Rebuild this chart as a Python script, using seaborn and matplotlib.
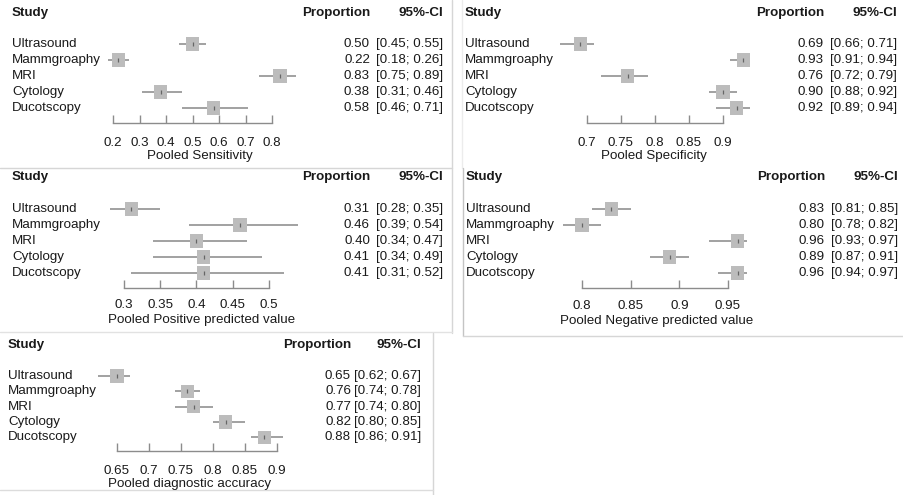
import numpy as np
import pandas as pd
import matplotlib
matplotlib.use("Agg")
import matplotlib.pyplot as plt
import matplotlib.transforms as mtransforms
from matplotlib.lines import Line2D
import seaborn as sns

sns.set_theme(style="white")
plt.rcParams['font.family'] = ['Liberation Sans', 'DejaVu Sans']

# ---------------- data ----------------
studies = ["Ultrasound", "Mammgroaphy", "MRI", "Cytology", "Ducotscopy"]

sens_est = [0.50, 0.22, 0.83, 0.38, 0.58]
sens_lo = [0.45, 0.18, 0.75, 0.31, 0.46]
sens_hi = [0.55, 0.26, 0.89, 0.46, 0.71]
sens_ticks = [0.2, 0.3, 0.4, 0.5, 0.6, 0.7, 0.8]

spec_est = [0.69, 0.93, 0.76, 0.90, 0.92]
spec_lo = [0.66, 0.91, 0.72, 0.88, 0.89]
spec_hi = [0.71, 0.94, 0.79, 0.92, 0.94]
spec_ticks = [0.7, 0.75, 0.8, 0.85, 0.9]

ppv_est = [0.31, 0.46, 0.40, 0.41, 0.41]
ppv_lo = [0.28, 0.39, 0.34, 0.34, 0.31]
ppv_hi = [0.35, 0.54, 0.47, 0.49, 0.52]
ppv_ticks = [0.3, 0.35, 0.4, 0.45, 0.5]

npv_est = [0.83, 0.80, 0.96, 0.89, 0.96]
npv_lo = [0.81, 0.78, 0.93, 0.87, 0.94]
npv_hi = [0.85, 0.82, 0.97, 0.91, 0.97]
npv_ticks = [0.8, 0.85, 0.9, 0.95]

acc_est = [0.65, 0.76, 0.77, 0.82, 0.88]
acc_lo = [0.62, 0.74, 0.74, 0.80, 0.86]
acc_hi = [0.67, 0.78, 0.80, 0.85, 0.91]
acc_ticks = [0.65, 0.7, 0.75, 0.8, 0.85, 0.9]

xlabels = ["Pooled Sensitivity", "Pooled Specificity", "Pooled Positive predicted value",
           "Pooled Negative predicted value", "Pooled diagnostic accuracy"]

# ---------------- layout (pixels) ----------------
W, H = 904, 495
fig = plt.figure(figsize=(W / 100, H / 100), dpi=100)
fig.patch.set_facecolor("white")

def fx(x):
    return x / W

def fy(y):
    return 1 - y / H

panels = [
    dict(est=sens_est, lo=sens_lo, hi=sens_hi, ticks=sens_ticks, xlabel=xlabels[0],
         ax0=113, ax1=272, row0=44, step=16, base=123, top=4, lab_x=12, head_y=13,
         prop_x=370, ci_x=443, tick_y=142, xl_y=156, xl_x=200),
    dict(est=spec_est, lo=spec_lo, hi=spec_hi, ticks=spec_ticks, xlabel=xlabels[1],
         ax0=587, ax1=723, row0=44, step=16, base=123, top=4, lab_x=465, head_y=13,
         prop_x=824, ci_x=897, tick_y=142, xl_y=156, xl_x=654),
    dict(est=ppv_est, lo=ppv_lo, hi=ppv_hi, ticks=ppv_ticks, xlabel=xlabels[2],
         ax0=124, ax1=269, row0=209, step=16, base=288, top=170, lab_x=12, head_y=177,
         prop_x=370, ci_x=443, tick_y=304, xl_y=320, xl_x=202),
    dict(est=npv_est, lo=npv_lo, hi=npv_hi, ticks=npv_ticks, xlabel=xlabels[3],
         ax0=582, ax1=728, row0=209, step=16, base=288, top=170, lab_x=466, head_y=177,
         prop_x=825, ci_x=898, tick_y=305, xl_y=321, xl_x=657),
    dict(est=acc_est, lo=acc_lo, hi=acc_hi, ticks=acc_ticks, xlabel=xlabels[4],
         ax0=117, ax1=277, row0=376, step=15.3, base=451, top=336, lab_x=8, head_y=345,
         prop_x=351, ci_x=421, tick_y=470, xl_y=484, xl_x=190),
]

FS = 9.6
TXT = "#1a1a1a"

for p in panels:
    ticks = p["ticks"]
    ax = fig.add_axes([fx(p["ax0"]), fy(p["base"]), fx(p["ax1"] - p["ax0"]),
                       (p["base"] - p["top"]) / H])
    ax.set_facecolor("none")
    ax.set_xlim(ticks[0], ticks[-1])
    ybot = (p["base"] - p["row0"]) / p["step"]
    ytop = (p["top"] - p["row0"]) / p["step"]
    ax.set_ylim(ybot, ytop)

    df = pd.DataFrame({"study": studies, "est": p["est"], "lo": p["lo"], "hi": p["hi"],
                       "idx": np.arange(len(studies))})

    ax.hlines(df["idx"], df["lo"], df["hi"], color="#878787", lw=1.1, clip_on=False, zorder=2)
    sns.scatterplot(data=df, x="est", y="idx", marker="s", s=92, color="#bcbcbc",
                    edgecolor="none", linewidth=0, ax=ax, zorder=3, clip_on=False, legend=False)
    ax.scatter(df["est"], df["idx"], marker="|", s=10, color="#666666", linewidths=0.9,
               zorder=4, clip_on=False)

    for s in ["top", "right", "left"]:
        ax.spines[s].set_visible(False)
    ax.spines["bottom"].set_color("#8c8c8c")
    ax.spines["bottom"].set_linewidth(1.0)
    ax.set_yticks([])
    ax.set_xticks(ticks)
    ax.set_xticklabels([f"{t:g}" for t in ticks], fontsize=FS, color=TXT)
    ax.tick_params(axis="x", direction="in", length=6, width=1.0, color="#8c8c8c",
                   pad=(p["tick_y"] - p["base"] - 5) * 0.72, bottom=True)
    ax.set_xlabel("")
    ax.set_ylabel("")

    tr = mtransforms.blended_transform_factory(fig.transFigure, ax.transData)
    for i, row in df.iterrows():
        ax.text(fx(p["lab_x"]), row["idx"], row["study"], transform=tr, fontsize=FS,
                color=TXT, ha="left", va="center")
        ax.text(fx(p["prop_x"]), row["idx"], f"{row['est']:.2f}", transform=tr,
                fontsize=FS, color=TXT, ha="right", va="center")
        ax.text(fx(p["ci_x"]), row["idx"], f"[{row['lo']:.2f}; {row['hi']:.2f}]",
                transform=tr, fontsize=FS, color=TXT, ha="right", va="center")

    fig.text(fx(p["lab_x"]), fy(p["head_y"]), "Study", fontsize=FS, fontweight="bold",
             color=TXT, ha="left", va="center")
    fig.text(fx(p["prop_x"]), fy(p["head_y"]), "Proportion", fontsize=FS, fontweight="bold",
             color=TXT, ha="right", va="center")
    fig.text(fx(p["ci_x"]), fy(p["head_y"]), "95%-CI", fontsize=FS, fontweight="bold",
             color=TXT, ha="right", va="center")
    fig.text(fx(p["xl_x"]), fy(p["xl_y"]), p["xlabel"], fontsize=FS, color=TXT,
             ha="center", va="center")

# ---------------- faint panel borders ----------------
def seg(x0, y0, x1, y1, c="#d6d6d6"):
    fig.add_artist(Line2D([fx(x0), fx(x1)], [fy(y0), fy(y1)], color=c, lw=1.0,
                          transform=fig.transFigure))

seg(452, 0, 452, 333)
seg(0, 168, 452, 168)
seg(462, 0, 462, 168, "#ececec")
seg(463, 168, 463, 336, "#c4c4c4")
seg(463, 336, 904, 336)
seg(0, 332, 452, 332, "#e2e2e2")
seg(433, 333, 433, 495)
seg(0, 490, 433, 490, "#dcdcdc")

fig.savefig("out.png", dpi=100, facecolor="white")
